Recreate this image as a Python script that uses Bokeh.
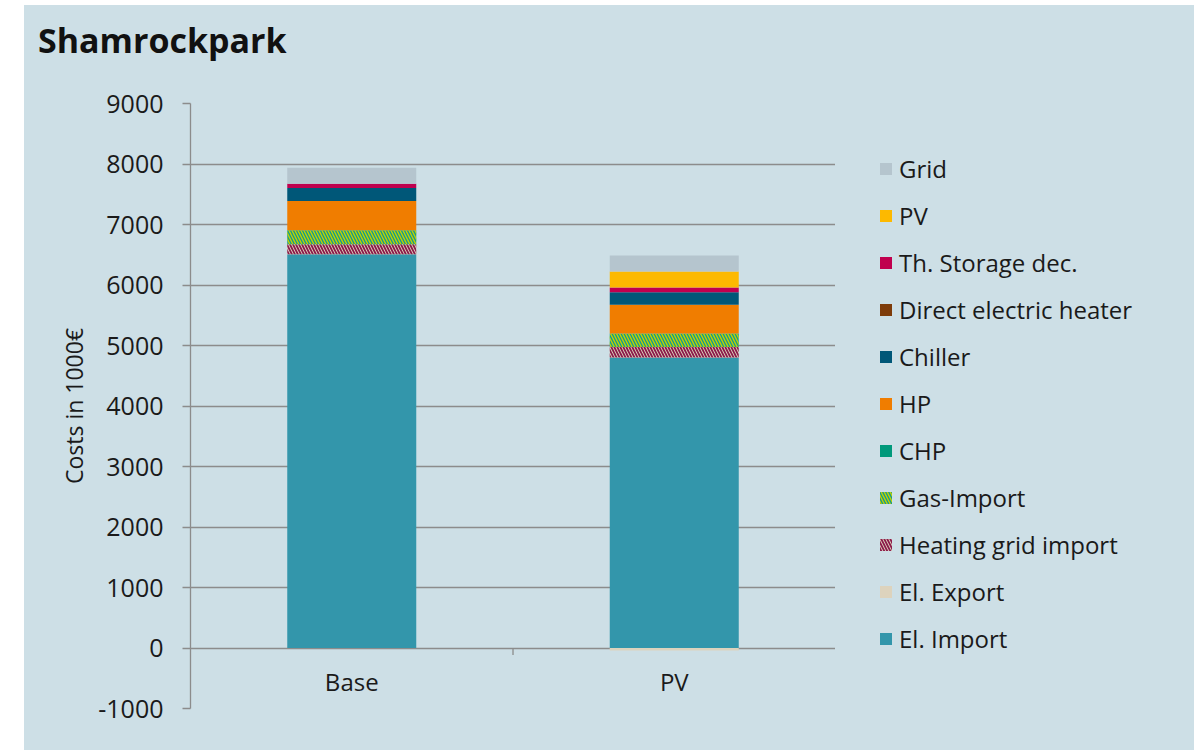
import numpy as np
from bokeh.plotting import figure
from bokeh.models import (FactorRange, Range1d, FixedTicker, Legend, LegendItem,
                          ColumnDataSource, Spacer, Div)
from bokeh.layouts import row, column
from bokeh.transform import dodge
from bokeh.core.properties import value
from bokeh.embed import file_html
from bokeh.resources import INLINE

# ---------------- data ----------------
categories = ["Base", "PV"]
el_import = [6510, 4800]
el_export = [0, -40]
heating_grid_import = [165, 175]
gas_import = [230, 225]
chp = [0, 0]
hp = [485, 474]
direct_electric_heater = [0, 0]
chiller = [215, 208]
th_storage_dec = [70, 77]
pv = [0, 264]
grid = [265, 264]
y_ticks = [-1000, 0, 1000, 2000, 3000, 4000, 5000, 6000, 7000, 8000, 9000]

# stacking order bottom -> top
series = [
    ("El. Import", el_import),
    ("El. Export", el_export),
    ("Heating grid import", heating_grid_import),
    ("Gas-Import", gas_import),
    ("CHP", chp),
    ("HP", hp),
    ("Direct electric heater", direct_electric_heater),
    ("Chiller", chiller),
    ("Th. Storage dec.", th_storage_dec),
    ("PV", pv),
    ("Grid", grid),
]

styles = {
    "El. Import": dict(fill_color="#3396ab"),
    "El. Export": dict(fill_color="#ddd3bd"),
    "Heating grid import": dict(fill_color="#ddd3bd", hatch_color="#8b1a4a",
                                hatch_pattern="\\", hatch_scale=6, hatch_weight=1.8),
    "Gas-Import": dict(fill_color="#139a8c", hatch_color="#c2d200",
                       hatch_pattern="\\", hatch_scale=6, hatch_weight=1.4),
    "CHP": dict(fill_color="#00997b"),
    "HP": dict(fill_color="#f07d00"),
    "Direct electric heater": dict(fill_color="#7e3c0a"),
    "Chiller": dict(fill_color="#005778"),
    "Th. Storage dec.": dict(fill_color="#c0004e"),
    "PV": dict(fill_color="#fdb900"),
    "Grid": dict(fill_color="#b5c5ce"),
}

BG = "#cddfe6"
GRID = "#8c8c8c"
TXT = "#1a1a1a"
FONT = "Open Sans"

# ---------------- title ----------------
title_div = Div(
    text=('<div style="margin:0;padding-left:14px;height:60px;line-height:70px;'
          'font-family:\'Open Sans\';font-size:34px;font-weight:bold;color:#111111;'
          'white-space:nowrap;">Shamrockpark</div>'),
    width=1170, height=60, styles={"background-color": BG, "margin": "0"})

# ---------------- main chart ----------------
p = figure(x_range=FactorRange(*categories), y_range=Range1d(-1000, 9000),
           width=811, height=685, output_backend="svg", toolbar_location=None,
           min_border_left=166, min_border_right=0, min_border_top=38,
           min_border_bottom=42, background_fill_color=BG, border_fill_color=BG,
           outline_line_color=None)

pos_base = np.zeros(len(categories))
neg_base = np.zeros(len(categories))
for name, vals in series:
    v = np.array(vals, dtype=float)
    bottom = np.where(v >= 0, pos_base, neg_base)
    top = bottom + v
    pos_base = np.where(v >= 0, top, pos_base)
    neg_base = np.where(v < 0, top, neg_base)
    src = ColumnDataSource(dict(x=categories, bottom=bottom, top=top))
    p.vbar(x="x", bottom="bottom", top="top", width=0.4, source=src,
           line_color=None, **styles[name])

# category labels below the zero line
p.text(x=categories, y=0, text=categories, y_offset=33, text_align="center",
       text_baseline="middle", text_font=value(FONT), text_font_size="24px",
       text_color=TXT)
# tick mark between categories
tick_src = ColumnDataSource(dict(x=[categories[1]]))
p.segment(x0=dodge("x", -0.5, range=p.x_range), y0=0,
          x1=dodge("x", -0.5, range=p.x_range), y1=-115,
          source=tick_src, line_color=GRID, line_width=1.3)

p.xaxis.visible = False
p.xgrid.visible = False

p.yaxis.ticker = FixedTicker(ticks=y_ticks)
p.yaxis.major_label_overrides = {t: str(t) for t in y_ticks}
p.yaxis.axis_label = "Costs in 1000€"
p.yaxis.axis_label_text_font = FONT
p.yaxis.axis_label_text_font_style = "normal"
p.yaxis.axis_label_text_font_size = "23px"
p.yaxis.axis_label_text_color = TXT
p.yaxis.axis_label_standoff = 5
p.yaxis.major_label_text_font = FONT
p.yaxis.major_label_text_font_size = "25px"
p.yaxis.major_label_text_color = TXT
p.yaxis.major_label_standoff = 19
p.yaxis.axis_line_color = GRID
p.yaxis.axis_line_width = 1.3
p.yaxis.major_tick_line_color = GRID
p.yaxis.major_tick_line_width = 1.3
p.yaxis.major_tick_out = 8
p.yaxis.major_tick_in = 0
p.yaxis.minor_tick_line_color = None

p.ygrid.grid_line_color = GRID
p.ygrid.grid_line_width = 1.3

# ---------------- legend panel ----------------
pl = figure(x_range=Range1d(0, 1), y_range=Range1d(0, 1), width=359, height=685,
            output_backend="svg", toolbar_location=None,
            min_border_left=0, min_border_right=0, min_border_top=0, min_border_bottom=0,
            background_fill_color=BG, border_fill_color=BG, outline_line_color=None)
pl.axis.visible = False
pl.grid.visible = False

legend_order = ["Grid", "PV", "Th. Storage dec.", "Direct electric heater", "Chiller",
                "HP", "CHP", "Gas-Import", "Heating grid import", "El. Export", "El. Import"]
leg_renderers = {}
for name in legend_order:
    # zero-height swatch source: only used to draw the legend glyph
    src = ColumnDataSource(dict(x=[0.5], bottom=[0.0], top=[0.0]))
    leg_renderers[name] = pl.vbar(x="x", bottom="bottom", top="top", width=0.0,
                                  source=src, line_color=None, **styles[name])

legend = Legend(items=[LegendItem(label=n, renderers=[leg_renderers[n]]) for n in legend_order],
                location=(43, 53), orientation="vertical",
                glyph_width=15, glyph_height=15, label_height=34,
                spacing=13, label_standoff=6, margin=0, padding=0,
                label_text_font=FONT, label_text_font_size="24px", label_text_color=TXT,
                background_fill_alpha=0, border_line_color=None)
pl.add_layout(legend)

inner = column(title_div, row(p, pl, styles={"background-color": BG}),
               styles={"background-color": BG})
layout = column(Spacer(width=1194, height=5),
                row(Spacer(width=24, height=745), inner))
open("out.html", "w").write(file_html(layout, INLINE))
